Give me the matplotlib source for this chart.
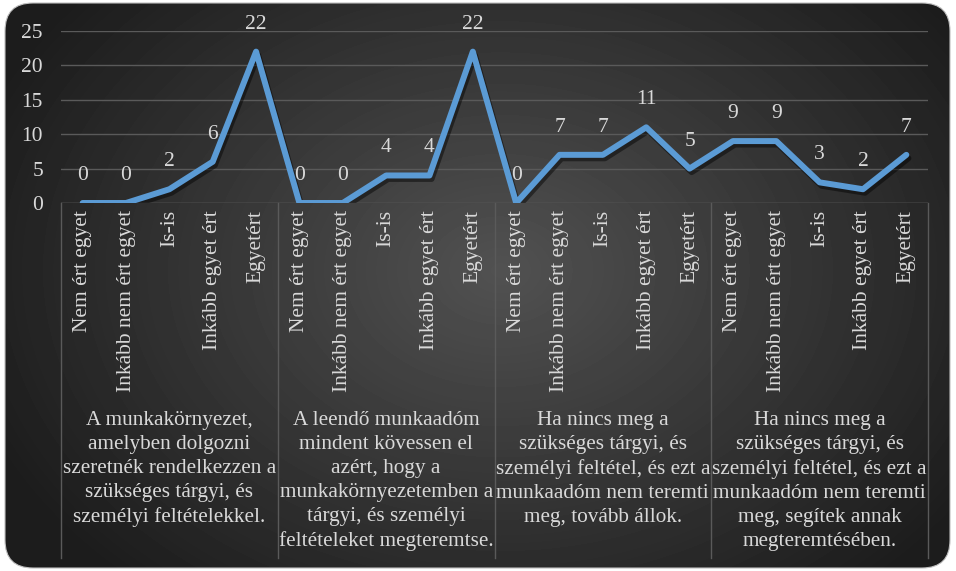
import numpy as np
import matplotlib
matplotlib.use("Agg")
import matplotlib.pyplot as plt
from matplotlib.patches import FancyBboxPatch
import matplotlib.patheffects as pe

answers = ["Nem ért egyet", "Inkább nem ért egyet", "Is-is", "Inkább egyet ért", "Egyetért"]
groups = [
    "A munkakörnyezet,\namelyben dolgozni\nszeretnék rendelkezzen a\nszükséges tárgyi, és\nszemélyi feltételekkel.",
    "A leendő munkaadóm\nmindent kövessen el\nazért, hogy a\nmunkakörnyezetemben a\ntárgyi, és személyi\nfeltételeket megteremtse.",
    "Ha nincs meg a\nszükséges tárgyi, és\nszemélyi feltétel, és ezt a\nmunkaadóm nem teremti\nmeg, tovább állok.",
    "Ha nincs meg a\nszükséges tárgyi, és\nszemélyi feltétel, és ezt a\nmunkaadóm nem teremti\nmeg, segítek annak\nmegteremtésében.",
]
values = [0, 0, 2, 6, 22,
          0, 0, 4, 4, 22,
          0, 7, 7, 11, 5,
          9, 9, 3, 2, 7]

W, H = 956, 571
fig = plt.figure(figsize=(W / 100, H / 100), dpi=100, facecolor="white")
serif = "Liberation Serif"
txt = "#d9d9d9"

# background panel with radial gradient
bg = fig.add_axes([0, 0, 1, 1])
bg.set_xlim(0, W)
bg.set_ylim(H, 0)
bg.axis("off")
yy, xx = np.mgrid[0:H, 0:W]
r = np.sqrt(((xx - 500) / 560.0) ** 2 + ((yy - 270) / 420.0) ** 2)
shade = np.clip(0.32 - 0.21 * r, 0.11, 0.32)
img = bg.imshow(shade, cmap="gray", vmin=0, vmax=1, extent=(0, W, H, 0), zorder=0)
panel = FancyBboxPatch((5, 3), 945, 565, boxstyle="round,pad=0,rounding_size=28",
                       facecolor="none", edgecolor="#bfbfbf", linewidth=0.8, zorder=1)
bg.add_patch(panel)
img.set_clip_path(panel)

left, right, top, zero = 61, 928, 31, 203
ax = fig.add_axes([left / W, 1 - zero / H, (right - left) / W, (zero - top) / H])
ax.set_facecolor("none")
x = np.arange(len(values))
ax.plot(x, values, color="#5b9bd5", linewidth=4.3, solid_capstyle="round",
        solid_joinstyle="round", zorder=3,
        path_effects=[pe.SimpleLineShadow(offset=(1.5, -2.5), shadow_color="black", alpha=0.45),
                      pe.Normal()])
for xi, v in zip(x, values):
    ax.annotate(str(v), (xi, v), xytext=(0, 13), textcoords="offset points",
                ha="center", va="bottom", color=txt, fontsize=15.5, family=serif)

ax.set_xlim(-0.5, len(values) - 0.5)
ax.set_ylim(0, 25)
ax.set_yticks([0, 5, 10, 15, 20, 25])
ax.grid(axis="y", color="#5a5a5a", linewidth=1)
ax.set_axisbelow(True)
for s in ax.spines.values():
    s.set_visible(False)
ax.axhline(0, color="#5a5a5a", linewidth=1, zorder=1)
ax.tick_params(axis="y", length=0, pad=13, labelsize=15.5, labelcolor=txt)
for t in ax.get_yticklabels():
    t.set_family(serif)
ax.set_xticks(x)
ax.set_xticklabels(answers * len(groups), rotation=90, fontsize=15.5,
                   color=txt, family=serif, va="top")
ax.tick_params(axis="x", length=0, pad=5)

# group separators and labels
bottom_frac = -(558 - zero) / (zero - top)
for k in range(len(groups) + 1):
    xs = k * 5 - 0.5
    ax.plot([xs, xs], [0, bottom_frac], transform=ax.get_xaxis_transform(),
            color="#5a5a5a", linewidth=1, clip_on=False)
for k, g in enumerate(groups):
    ax.text(k * 5 + 2, -(411 - zero) / (zero - top), g, transform=ax.get_xaxis_transform(),
            ha="center", va="top", color=txt, fontsize=15.3,
            family=serif, linespacing=1.36)

fig.savefig("out.png", dpi=100, facecolor="white")
